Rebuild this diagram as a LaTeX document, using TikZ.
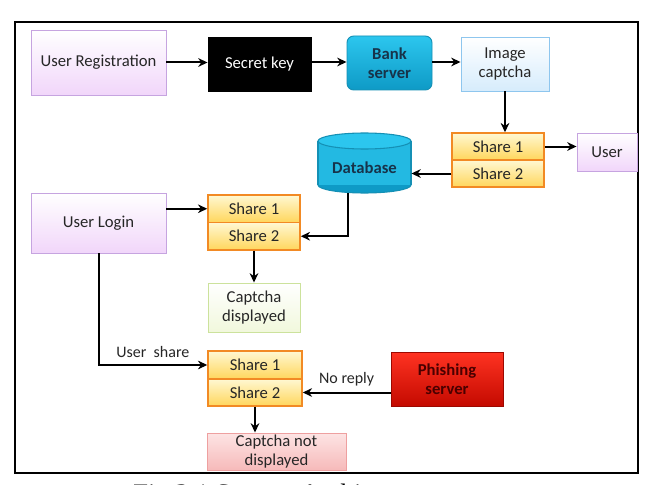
\documentclass[tikz,border=0pt]{standalone}
\usepackage{fontspec}
\setmainfont{Carlito}
\newfontfamily\capfont{Liberation Serif}
\usetikzlibrary{arrows.meta,positioning}
\definecolor{txt}{HTML}{262626}
\definecolor{lavb}{HTML}{C6A4E0}
\definecolor{lavf}{HTML}{F1D6FA}
\definecolor{orb}{HTML}{F28A24}
\definecolor{shtop}{HTML}{FFF8D2}
\definecolor{shbot}{HTML}{FFD65C}
\definecolor{cyb}{HTML}{1590B5}
\definecolor{cytop}{HTML}{2CC6EE}
\definecolor{cybot}{HTML}{0E9AC6}
\definecolor{imgb}{HTML}{8EC6EE}
\definecolor{imgf}{HTML}{D6ECFC}
\definecolor{grb}{HTML}{CCE29C}
\definecolor{grf}{HTML}{F1F8DC}
\definecolor{pkb}{HTML}{EEA0A0}
\definecolor{pktop}{HTML}{FDE4E4}
\definecolor{pkbot}{HTML}{F6BABA}
\definecolor{redtop}{HTML}{FF3322}
\definecolor{redbot}{HTML}{C40A00}
\definecolor{redtxt}{HTML}{4A0000}
\definecolor{banktxt}{HTML}{17334A}
\tikzset{
  box/.style={draw, rectangle, align=center, inner sep=1pt, text=txt,
    font=\fontsize{12.5pt}{14.5pt}\selectfont, line width=0.7pt},
  lav/.style={box, draw=lavb, top color=white, bottom color=lavf},
  sharebox/.style={box, draw=orb, line width=1.1pt, top color=shtop, bottom color=shbot},
  conn/.style={line width=1.5pt, -{Stealth[length=7pt,width=6.5pt]}},
  lbl/.style={text=txt, font=\fontsize{12pt}{14pt}\selectfont, inner sep=1pt}
}
\begin{document}
\begin{tikzpicture}[x=0.75pt,y=-0.75pt]
\useasboundingbox (0,0) rectangle (653,485);
\fill[white] (0,0) rectangle (653,485);
% frame
\draw[line width=1.5pt] (15,22) rectangle (638,473);

% top row
\node[lav, minimum width=101.25pt, minimum height=48.75pt] (reg) at (98.5,62.5) {User Registration};
\node[box, fill=black, draw=black, text=white, minimum width=77.25pt, minimum height=40.5pt] (key) at (259.5,64) {Secret key};
\node[box, rounded corners=5pt, draw=cyb, top color=cytop, bottom color=cybot, text=banktxt, minimum width=63.75pt, minimum height=40.5pt, font=\bfseries\fontsize{12.5pt}{14.5pt}\selectfont] (bank) at (389.5,63) {Bank\\server};
\node[box, draw=imgb, top color=white, bottom color=imgf, minimum width=66pt, minimum height=40.5pt] (img) at (505,64) {Image\\captcha};

% share pair top right
\node[sharebox, minimum width=69pt, minimum height=20.25pt] (s1a) at (498,146.5) {Share 1};
\node[sharebox, minimum width=69pt, minimum height=20.25pt] (s2a) at (498,173.5) {Share 2};
\node[lav, minimum width=45pt, minimum height=28.5pt] (user) at (607,152) {User};

% database cylinder
\fill[cybot, draw=cyb, line width=0.8pt] (364.5,185) ellipse (46.5 and 8);
\fill[cytop!70!cybot] (318,141) rectangle (411,185);
\draw[cyb, line width=0.8pt] (318,141) -- (318,185) (411,141) -- (411,185);
\filldraw[fill=cytop, draw=cyb, line width=0.8pt] (364.5,141) ellipse (46.5 and 8);
\node[box, draw=none, text=banktxt, minimum width=69.75pt, minimum height=12pt, font=\bfseries\fontsize{12.5pt}{14.5pt}\selectfont] (db) at (364.5,168) {Database};
\coordinate (dbb) at (348,193);

% middle
\node[lav, minimum width=101.25pt, minimum height=45pt] (login) at (98.5,223) {User Login};
\node[sharebox, minimum width=69pt, minimum height=20.6pt] (s1b) at (254,208.75) {Share 1};
\node[sharebox, minimum width=69pt, minimum height=20.6pt] (s2b) at (254,236.25) {Share 2};
\node[box, draw=grb, top color=white, bottom color=grf, minimum width=69pt, minimum height=36.75pt] (disp) at (254,307.5) {Captcha\\displayed};

% bottom
\node[sharebox, minimum width=70.5pt, minimum height=21pt] (s1c) at (255,365) {Share 1};
\node[sharebox, minimum width=70.5pt, minimum height=20.25pt] (s2c) at (255,392.5) {Share 2};
\node[box, draw=redbot!80!black, top color=redtop, bottom color=redbot, text=redtxt, minimum width=84pt, minimum height=40.5pt, font=\bfseries\fontsize{12.5pt}{14.5pt}\selectfont] (phish) at (447,379) {Phishing\\server};
\node[box, draw=pkb, top color=pktop, bottom color=pkbot, minimum width=104.25pt, minimum height=27.75pt, inner sep=0pt, font=\fontsize{12.5pt}{14pt}\selectfont] (nd) at (276.5,451.5) {Captcha not\\displayed};

% connectors
\draw[conn] (reg.east) -- (reg.east -| key.west);
\draw[conn] (key.east |- 0,62) -- (bank.west |- 0,62);
\draw[conn] (bank.east |- 0,62) -- (img.west |- 0,62);
\draw[conn] (img.south) -- (img.south |- s1a.north);
\draw[conn] (s1a.east) -- (s1a.east -| user.west);
\draw[conn] (s2a.west) -- (s2a.west -| db.east);
\draw[conn] (dbb) |- (s2b.east);
\draw[conn] (s1b.west -| login.east) -- (s1b.west);
\draw[conn] (s2b.south) -- (disp.north);
\draw[conn] (login.south) |- (s1c.west) node[lbl, pos=0.75, above=4pt] (ushare) {User\ \ share};
\draw[conn] (s2c.south) -- (s2c.south |- nd.north);
\draw[conn] (s2c.east -| phish.west) -- node[lbl, above=3pt] (noreply) {No reply} (s2c.east);

% caption (cut off at bottom, as in the reference)
\node[anchor=base west, inner sep=0pt, font=\capfont\fontsize{20pt}{24pt}\selectfont] (cap) at (133,502) {Fig 2.1 System Architecture};
\end{tikzpicture}
\end{document}
